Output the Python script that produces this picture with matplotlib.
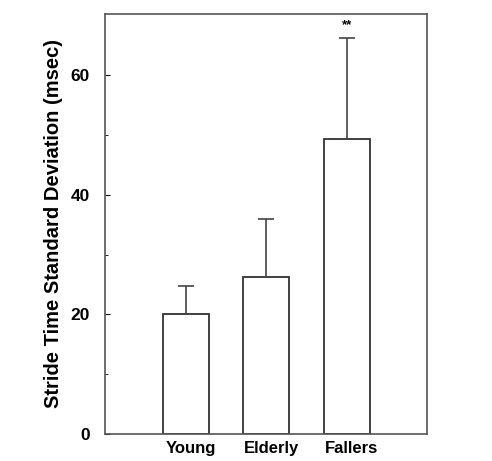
import matplotlib.pyplot as plt
from matplotlib.ticker import FixedLocator
from matplotlib.transforms import ScaledTranslation

groups = ['Young', 'Elderly', 'Fallers']
means = [20.0, 26.3, 49.3]
sds = [4.7, 9.7, 16.9]
marks = ['', '', '**']

plt.rcParams['font.family'] = ['Liberation Sans', 'DejaVu Sans']

fig = plt.figure(figsize=(4.92, 4.61), dpi=100)
ax = fig.add_axes([0.2134, 0.0586, 0.655, 0.911])

x = [1, 2, 3]
ax.bar(x, means, width=0.57, color='white', edgecolor='#333333', linewidth=1.3)
# upper error bars only
ax.errorbar(x, means, yerr=[[0, 0, 0], sds], fmt='none', ecolor='#444444',
            elinewidth=1.2, capsize=6, capthick=1.2)
for xi, m, s, t in zip(x, means, sds, marks):
    if t:
        ax.text(xi, m + s + 2.1, t, ha='center', va='center', fontsize=9.5, weight='bold')

ax.set_xlim(0, 4)
ax.set_ylim(0, 70.2)
ax.set_xticks(x)
ax.set_xticklabels(groups)
ax.yaxis.set_major_locator(FixedLocator([0, 20, 40, 60]))
ax.yaxis.set_minor_locator(FixedLocator([10, 30, 50]))
ax.tick_params(axis='x', length=0, pad=5, labelsize=12)
ax.tick_params(axis='y', which='major', direction='in', length=3.5, labelsize=12.5, pad=11)
ax.tick_params(axis='y', which='minor', direction='in', length=2.5)
shift = ScaledTranslation(5 / 100, 0, fig.dpi_scale_trans)
for lab in ax.get_xticklabels():
    lab.set_fontweight('bold')
    lab.set_transform(lab.get_transform() + shift)
for lab in ax.get_yticklabels():
    lab.set_fontweight('bold')
for sp in ax.spines.values():
    sp.set_color('#555555')
    sp.set_linewidth(1.2)

ax.set_ylabel('Stride Time Standard Deviation (msec)', fontsize=14.5, weight='bold', labelpad=5.5)

fig.savefig('out.png', dpi=100)
